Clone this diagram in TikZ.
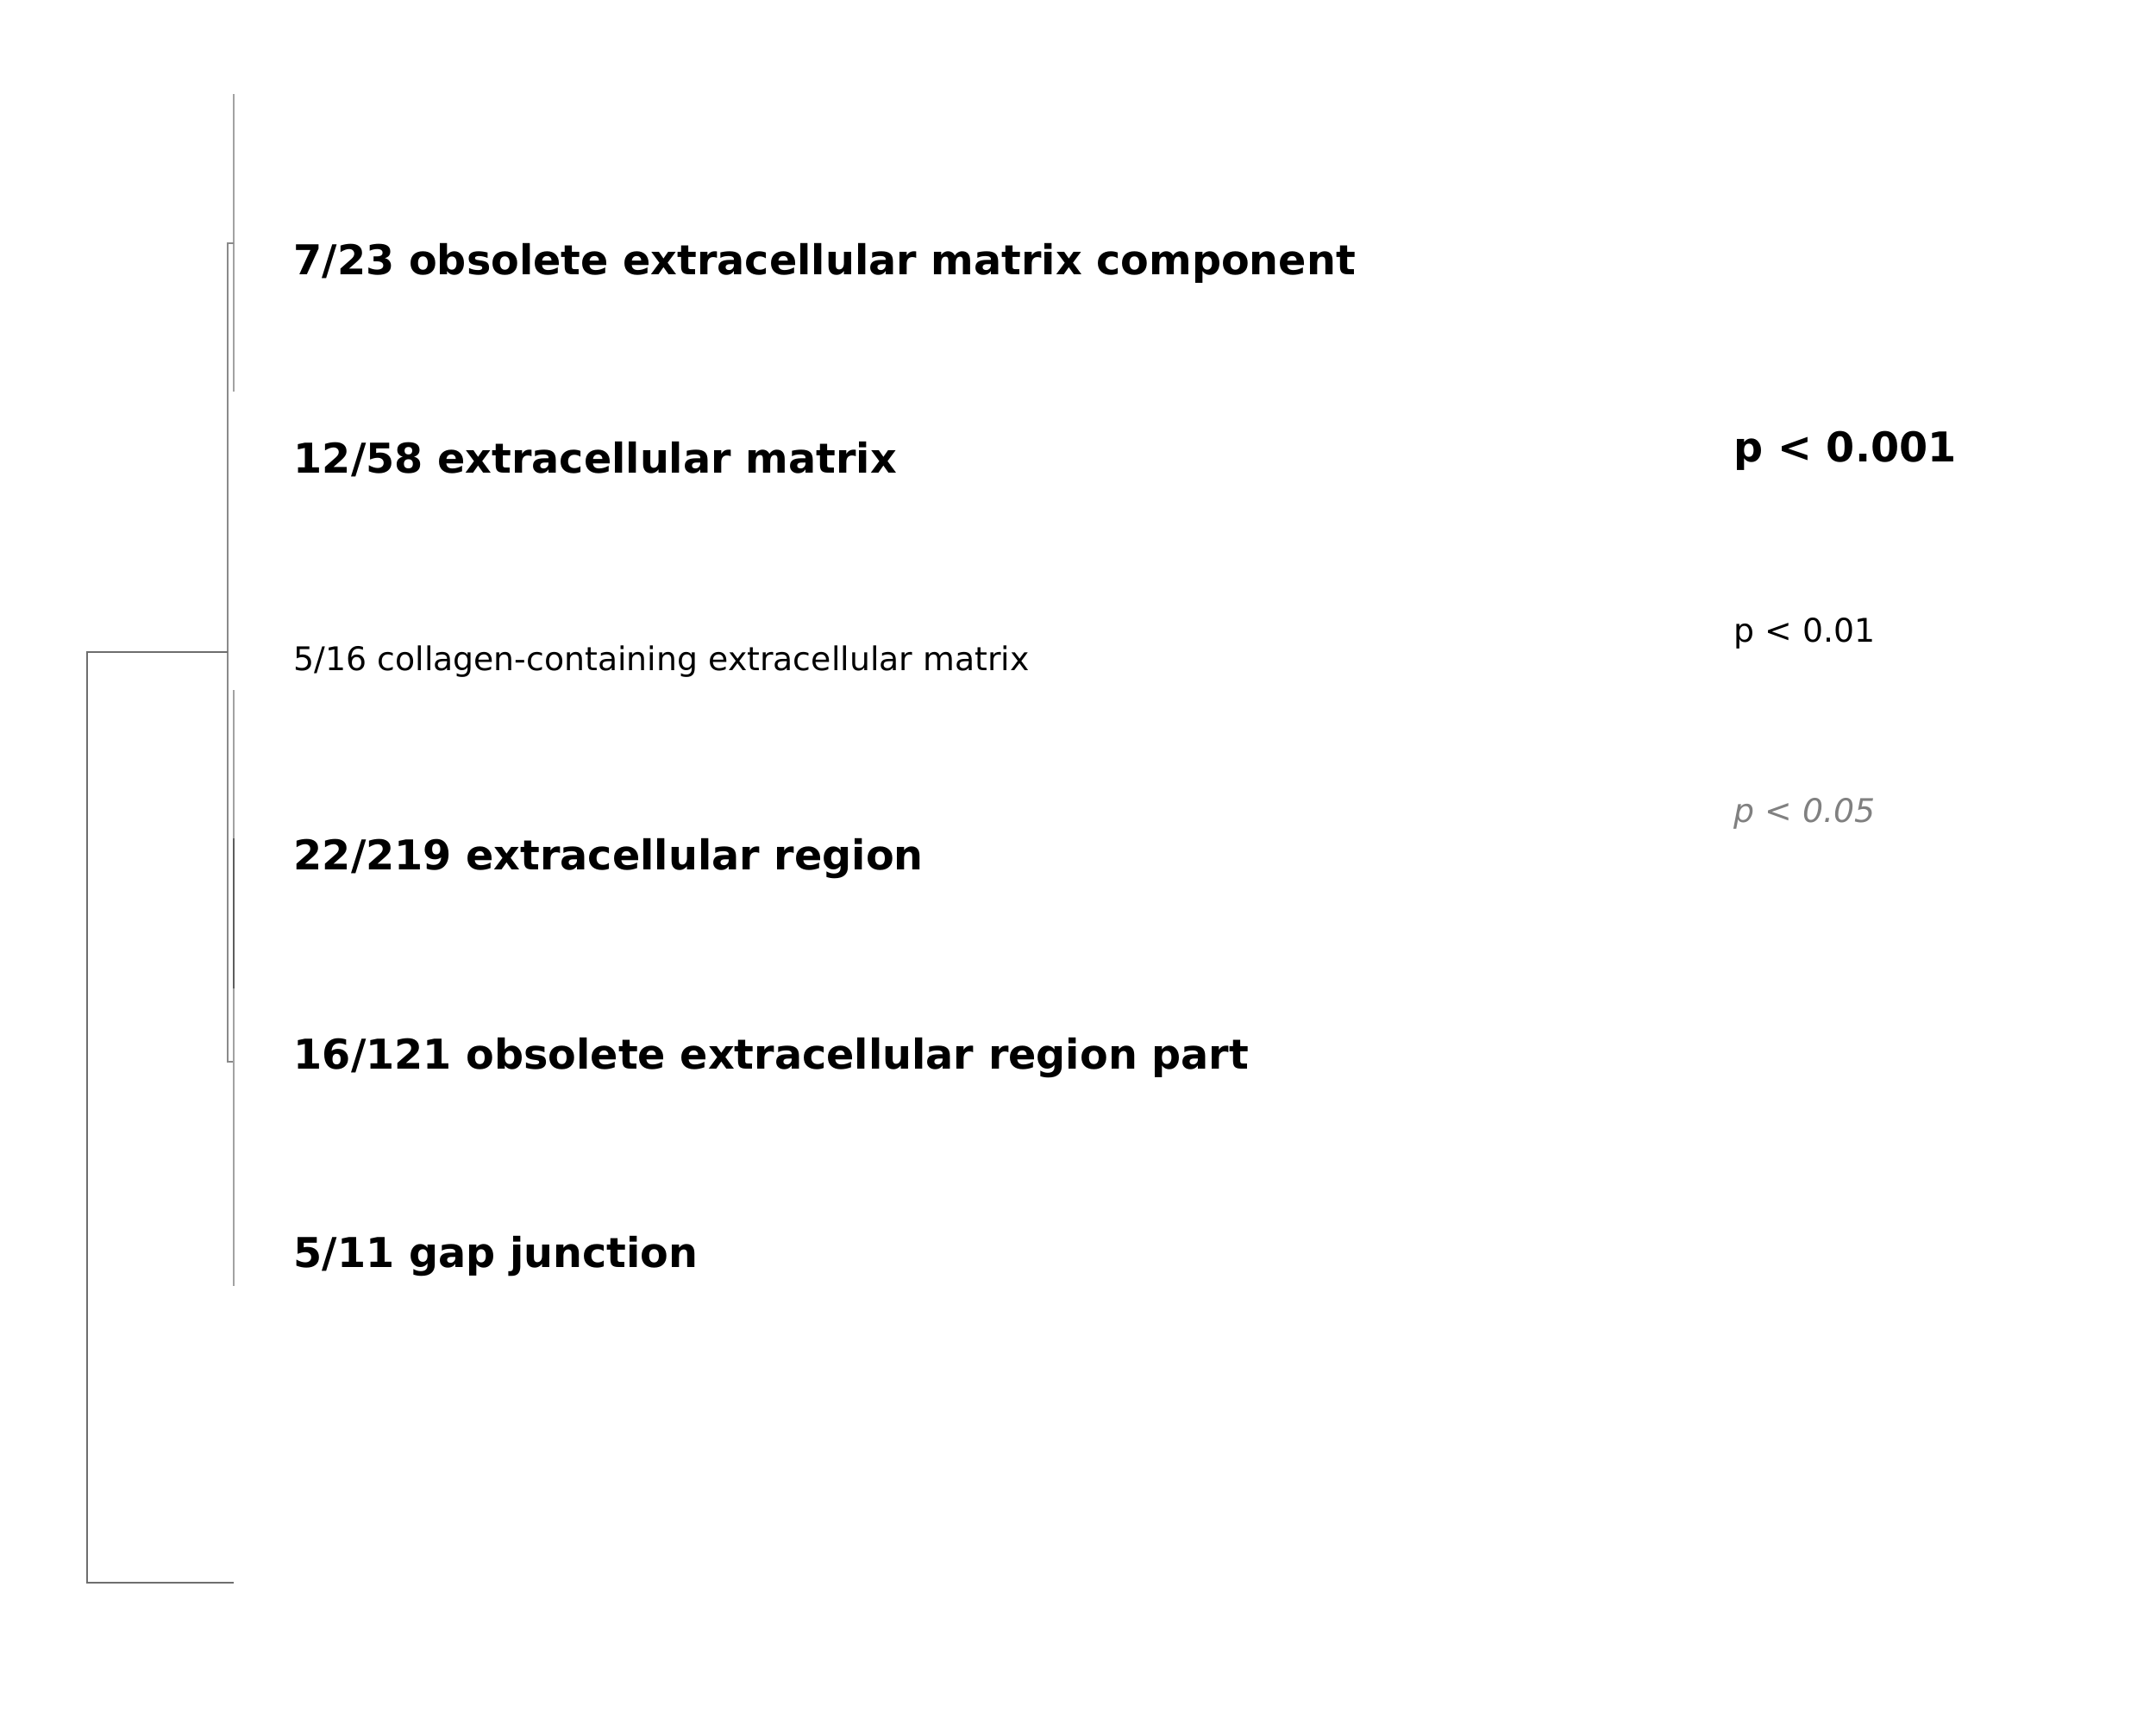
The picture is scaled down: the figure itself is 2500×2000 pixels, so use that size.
\documentclass[tikz,border=0pt]{standalone}
\usepackage{fontspec}
\setmainfont{DejaVu Sans}
\usetikzlibrary{positioning}

\definecolor{treelight}{HTML}{A2A2A2}
\definecolor{treemid}{HTML}{8A8A8A}
\definecolor{treedark}{HTML}{6E6E6E}
\definecolor{treedeep}{HTML}{5E5E5E}
\definecolor{pgray}{HTML}{808080}

\begin{document}
\begin{tikzpicture}[x=0.01cm, y=-0.01cm]
        \tikzstyle{term} = [anchor=base west, inner sep=0pt, font=\fontsize{13.55}{16}\selectfont\bfseries]
        \tikzstyle{term_weak} = [anchor=base west, inner sep=0pt, font=\fontsize{10.75}{12}\selectfont]
        \tikzstyle{branch} = [line width=0.6pt]
        \useasboundingbox (0,0) rectangle (2500,2000);

        % GO terms
        \node [term] (ecm_comp) at (340,318) {7/23 obsolete extracellular matrix component};
        \node [term] (ecm) at (340,548) {12/58 extracellular matrix};
        \node [term_weak] (collagen) at (340,777) {5/16 collagen-containing extracellular matrix};
        \node [term] (region) at (340,1008) {22/219 extracellular region};
        \node [term] (region_part) at (340,1239) {16/121 obsolete extracellular region part};
        \node [term] (gap) at (340,1469) {5/11 gap junction};

        % legend
        \node [term] (p001) at (2010,535) {p < 0.001};
        \node [term_weak] (p01) at (2010,744) {p < 0.01};
        \node [term_weak, text=pgray, font=\fontsize{10.75}{12}\selectfont\itshape] (p05) at (2010,953) {p < 0.05};

        % tree
        \coordinate (top_a) at (271,109);
        \coordinate (top_b) at (271,454);
        \coordinate (mid_a) at (264,282);
        \coordinate (mid_b) at (264,1231);
        \coordinate (root_a) at (101,756);
        \coordinate (root_b) at (101,1835);
        \coordinate (low_a) at (271,800);
        \coordinate (low_b) at (271,1491);

        \draw [branch, treelight] (top_a) -- (top_b);
        \draw [branch, treemid] (top_a |- mid_a) -- (mid_a) -- (mid_b) -- (top_a |- mid_b);
        \draw [branch, treedark] (mid_a |- root_a) -- (root_a) -- (root_b) -- (top_a |- root_b);
        \draw [branch, treelight] (low_a) -- (low_b);
        \draw [branch, treedeep] (271,972) -- (271,1146);

    \end{tikzpicture}
\end{document}
